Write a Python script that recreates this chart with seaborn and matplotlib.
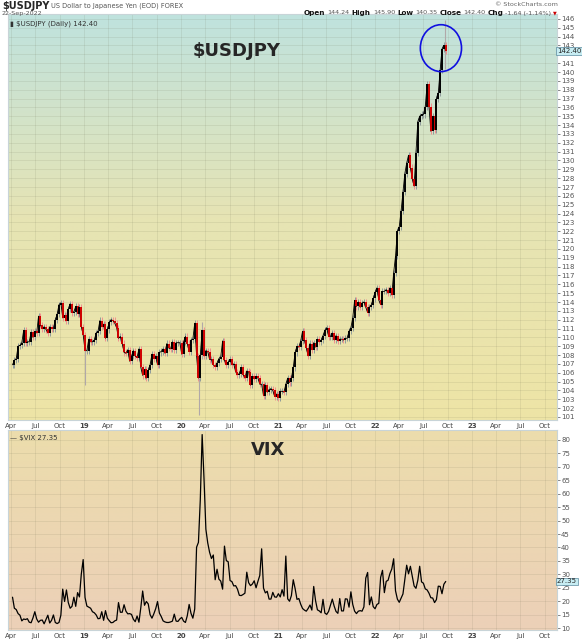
import numpy as np
import pandas as pd
import matplotlib
matplotlib.use("Agg")
import matplotlib.pyplot as plt
import matplotlib.dates as mdates
import matplotlib.transforms as mtransforms
from matplotlib.patches import Ellipse
from matplotlib.colors import LinearSegmentedColormap
import seaborn as sns

sns.set_style("white")
plt.rcParams['font.family'] = ['DejaVu Sans']

# weekly USDJPY closes (first week = Apr 6 2018)
jpy_2018 = [106.9, 107.4, 107.6, 109.0, 109.1, 109.4, 110.8, 109.4, 109.5, 109.5,
            110.6, 110.0, 110.7, 110.5, 112.4, 111.4, 111.0, 111.2, 110.9, 110.5,
            111.2, 111.0, 111.0, 112.0, 112.6, 113.7, 113.9, 112.2, 112.5, 111.9,
            113.2, 113.8, 112.8, 112.9, 113.5, 112.7, 113.4, 111.2, 110.3]
jpy_2019 = [108.5, 108.5, 109.8, 109.5, 109.5, 109.7, 110.5, 110.7, 111.9, 111.2,
            111.5, 109.9, 110.9, 111.7, 112.0, 111.9, 111.6, 111.1, 109.9, 110.1,
            109.3, 108.3, 108.2, 108.6, 107.3, 107.9, 108.5, 107.9, 107.7, 108.7,
            106.6, 105.7, 106.4, 105.4, 106.3, 106.9, 108.1, 107.6, 107.9, 106.9,
            108.3, 108.4, 108.7, 108.2, 109.3, 108.8, 108.7, 109.5, 108.6, 109.4,
            109.4, 109.4]
jpy_2020 = [108.1, 109.5, 110.1, 109.3, 108.4, 109.7, 109.8, 111.6, 107.9, 105.4,
            108.0, 110.8, 107.9, 108.5, 108.4, 107.5, 107.5, 106.9, 106.7, 107.1,
            107.6, 107.8, 109.6, 107.4, 106.9, 107.2, 107.5, 106.9, 107.0, 106.1,
            105.8, 105.9, 106.6, 105.8, 105.4, 106.2, 106.1, 104.6, 105.6, 105.3,
            105.6, 105.4, 104.7, 104.7, 103.4, 104.6, 103.8, 104.1, 104.2, 104.0,
            103.3, 103.6]
jpy_2021 = [103.2, 103.9, 103.9, 103.8, 104.7, 105.4, 104.9, 105.4, 106.6, 108.3,
            109.0, 108.9, 109.6, 110.7, 109.7, 108.8, 107.9, 109.3, 108.6, 109.4,
            108.9, 109.8, 109.5, 109.7, 110.2, 110.8, 111.1, 110.1, 110.1, 110.5,
            109.7, 110.2, 109.6, 109.8, 109.8, 109.7, 109.9, 109.9, 110.7, 111.1,
            112.2, 114.2, 113.5, 114.0, 113.4, 113.9, 114.0, 113.4, 112.8, 113.4,
            113.7, 114.4, 115.1]
jpy_2022 = [115.6, 114.2, 113.7, 115.2, 115.2, 115.4, 115.0, 115.6, 114.8, 117.3,
            119.2, 122.0, 122.5, 124.3, 126.4, 128.5, 129.7, 130.6, 129.2, 127.9,
            127.1, 130.9, 134.4, 135.0, 135.2, 135.2, 136.1, 138.6, 136.1, 133.3,
            135.0, 133.5, 137.0, 137.6, 140.2, 142.6, 143.0, 142.4]
usdjpy = jpy_2018 + jpy_2019 + jpy_2020 + jpy_2021 + jpy_2022

# weekly VIX readings (peaks kept)
vix_2018 = [21.5, 17.4, 16.9, 15.4, 14.8, 12.7, 13.4, 13.2, 13.5, 12.2,
            12.0, 13.8, 16.1, 13.4, 12.2, 12.9, 13.0, 11.6, 13.2, 14.8,
            11.9, 12.9, 14.9, 12.1, 11.7, 12.1, 14.8, 24.5, 19.9, 24.2,
            19.5, 17.4, 18.1, 21.5, 18.1, 23.2, 21.6, 30.1, 35.5]
vix_2019 = [21.4, 18.2, 17.8, 17.4, 16.1, 15.7, 14.9, 13.5, 13.6, 16.1,
            12.9, 16.5, 13.7, 12.8, 12.0, 12.1, 12.7, 13.0, 19.5, 15.9,
            15.9, 18.7, 16.3, 15.3, 15.4, 15.1, 13.3, 12.4, 14.5, 12.2,
            17.6, 23.8, 18.5, 19.9, 19.0, 15.0, 13.7, 15.3, 17.2, 19.9,
            15.6, 14.3, 12.7, 12.3, 12.1, 12.1, 12.3, 12.6, 15.2, 12.6,
            12.5, 13.4]
vix_2020 = [14.0, 12.6, 12.1, 14.6, 18.8, 15.5, 13.7, 17.1, 40.1, 41.9,
            57.8, 82.0, 65.5, 46.8, 41.7, 38.2, 35.9, 37.2, 28.0, 31.9,
            28.2, 27.5, 24.5, 40.5, 35.1, 34.7, 27.7, 27.3, 25.7, 25.8,
            24.5, 22.2, 22.1, 22.5, 23.0, 30.8, 26.9, 25.8, 26.4, 27.6,
            25.0, 27.4, 29.6, 39.5, 24.9, 23.1, 23.7, 20.8, 20.8, 23.3,
            21.6, 21.5]
vix_2021 = [22.8, 21.6, 24.3, 21.9, 36.8, 20.9, 20.0, 22.1, 28.0, 24.7,
            20.7, 21.0, 18.9, 17.3, 16.7, 16.3, 17.3, 18.6, 16.7, 25.5,
            20.2, 16.8, 16.4, 15.7, 20.7, 15.6, 15.1, 16.2, 18.5, 20.8,
            18.2, 16.2, 15.5, 21.0, 16.4, 16.4, 20.9, 20.8, 17.8, 23.5,
            18.8, 16.3, 15.4, 16.3, 16.5, 16.3, 17.9, 28.6, 30.7, 18.7,
            21.6, 18.0, 17.2]
vix_2022 = [18.8, 19.2, 28.9, 31.5, 23.2, 27.4, 27.8, 30.3, 32.0, 35.8,
            23.9, 20.8, 19.6, 21.2, 22.7, 28.2, 33.4, 30.2, 33.0, 29.4,
            25.7, 24.8, 27.8, 33.0, 27.2, 26.7, 24.6, 24.2, 23.0, 21.3,
            21.2, 19.5, 20.6, 25.6, 25.5, 22.8, 26.3, 27.35]
vix = vix_2018 + vix_2019 + vix_2020 + vix_2021 + vix_2022

# intraday extremes visible as long wicks
spike_dates = ["2019-01-03", "2020-03-09", "2020-03-19", "2022-09-22"]
spike_low = [104.6, 101.2, 107.5, 140.35]
spike_high = [108.7, 105.4, 111.7, 145.9]

jpy_weeks = pd.date_range("2018-04-06", periods=len(usdjpy), freq="7D")
vix_weeks = pd.date_range("2018-04-06", periods=len(vix), freq="7D")
jpy = pd.DataFrame({"date": jpy_weeks, "close": usdjpy})
vx = pd.DataFrame({"date": vix_weeks, "vix": vix})

W, H = 582, 640
fig = plt.figure(figsize=(W / 100, H / 100), dpi=100)
fig.patch.set_facecolor("white")


def px_axes(x0, y0, x1, y1):
    return fig.add_axes([x0 / W, 1 - y1 / H, (x1 - x0) / W, (y1 - y0) / H])


ax1 = px_axes(8, 14, 557, 420)
ax2 = px_axes(8, 430, 557, 630)

top_cmap = LinearSegmentedColormap.from_list("top", ["#eee4a6", "#e6e4b4", "#bfe2de"])
bot_cmap = LinearSegmentedColormap.from_list("bot", ["#ecd0b8", "#ecddac"])
grad = np.linspace(0, 1, 256).reshape(-1, 1)
for ax, cm in [(ax1, top_cmap), (ax2, bot_cmap)]:
    ax.imshow(grad, extent=[0, 1, 0, 1], transform=ax.transAxes, aspect="auto",
              cmap=cm, origin="lower", zorder=0)

# USDJPY candles: body from previous close to close
prev = [usdjpy[0]] + usdjpy[:-1]
lo = np.minimum(prev, usdjpy)
hi = np.maximum(prev, usdjpy)
up = np.array(usdjpy) >= np.array(prev)
wick_col = np.where(up, "#8f9a9a", "#f09090")
ax1.vlines(jpy["date"], lo - 0.35, hi + 0.35, colors=wick_col, lw=0.7, zorder=2)
ax1.vlines(pd.to_datetime(spike_dates), spike_low, spike_high, colors="#b0a8a8", lw=0.8, zorder=2)
sns.lineplot(data=jpy, x="date", y="close", ax=ax1, color="black", lw=0.6, zorder=3)
ax1.vlines(jpy["date"], lo, hi, colors=np.where(up, "black", "#d00000"), lw=1.4, zorder=4)

sns.lineplot(data=vx, x="date", y="vix", ax=ax2, color="black", lw=0.9, zorder=3)

ticks = pd.date_range("2018-04-01", "2023-10-01", freq="QS-JAN")
labels = []
for t in ticks:
    labels.append(t.strftime("%y") if t.month == 1 else t.strftime("%b"))

x0 = mdates.date2num(pd.Timestamp("2018-03-20"))
x1 = mdates.date2num(pd.Timestamp("2023-11-16"))
for ax in (ax1, ax2):
    ax.set_xlim(x0, x1)
    ax.set_xticks(ticks)
    ax.set_xticklabels(labels)
    for lab, t in zip(ax.get_xticklabels(), ticks):
        if t.month == 1:
            lab.set_fontweight("bold")
    ax.yaxis.tick_right()
    ax.tick_params(axis="x", length=0, pad=2, labelsize=5, colors="#444444")
    ax.tick_params(axis="y", length=2, width=0.5, pad=1, labelsize=5, colors="#555555")
    ax.grid(True, color="#6a6a50", alpha=0.16, lw=0.5)
    ax.set_xlabel("")
    ax.set_ylabel("")
    for s in ax.spines.values():
        s.set_color("#c8d4d8")
        s.set_linewidth(0.8)

ax1.set_ylim(100.66, 146.56)
ax1.set_yticks(np.arange(101, 147, 1))
ax2.set_ylim(9.3, 83.7)
ax2.set_yticks(np.arange(10, 81, 5))
# the 142 label sits under the last-value box
for lab, v in zip(ax1.get_yticklabels(), np.arange(101, 147, 1)):
    if v == 142:
        lab.set_visible(False)

# last value boxes on the right axis
tr1 = mtransforms.blended_transform_factory(ax1.transAxes, ax1.transData)
ax1.text(1.0, 142.4, "142.40", transform=tr1, fontsize=5, va="center", ha="left",
         bbox=dict(boxstyle="square,pad=0.12", fc="#c6ecf2", ec="#5a8aa0", lw=0.5), zorder=6)
tr2 = mtransforms.blended_transform_factory(ax2.transAxes, ax2.transData)
ax2.text(1.0, 27.35, "27.35", transform=tr2, fontsize=5, va="center", ha="left",
         bbox=dict(boxstyle="square,pad=0.12", fc="#c6ecf2", ec="#5a8aa0", lw=0.5), zorder=6)

# highlight circle
cx = mdates.date2num(pd.Timestamp("2022-09-05"))
ax1.add_patch(Ellipse((cx, 142.7), width=155, height=5.3, fill=False,
                      ec="#1010e0", lw=1.2, zorder=7))

ax1.text(0.417, 0.908, "$USDJPY", transform=ax1.transAxes, fontsize=13,
         fontweight="bold", ha="center", va="center")
ax2.text(0.473, 0.9, "VIX", transform=ax2.transAxes, fontsize=13,
         fontweight="bold", ha="center", va="center")

# in-panel legends
ax1.text(0.004, 0.985, "\u25ae $USDJPY (Daily) 142.40", transform=ax1.transAxes,
         fontsize=5, ha="left", va="top", color="#333333")
ax2.text(0.004, 0.975, "\u2014 $VIX 27.35", transform=ax2.transAxes,
         fontsize=5, ha="left", va="top", color="#333333")

renderer = fig.canvas.get_renderer()


def run_text(x, y, pieces, gap=2, right=False):
    # place pieces one after another (pixel coords); right=True ends the run at x
    texts = [fig.text(0, 1 - y / H, s, va="center", ha="left", **kw) for s, kw in pieces]
    widths = [t.get_window_extent(renderer).width for t in texts]
    if right:
        x = x - sum(widths) - gap * (len(texts) - 1)
    for t, w in zip(texts, widths):
        t.set_x(x / W)
        x += w + gap


bold = dict(fontsize=5.2, fontweight="bold", color="#111111")
norm = dict(fontsize=4.6, color="#555555")
run_text(2, 6, [("$USDJPY", dict(fontsize=7, fontweight="bold")),
                ("US Dollar to Japanese Yen (EOD) FOREX", dict(fontsize=4.8, color="#555555"))])
fig.text(2 / W, 1 - 14 / H, "22-Sep-2022", fontsize=4.6, color="#555555", va="center")
fig.text(558 / W, 1 - 5 / H, "\u00a9 StockCharts.com", fontsize=4.6, color="#666666",
         ha="right", va="center")
run_text(557, 13, [("Open", bold), ("144.24", norm), ("High", bold), ("145.90", norm),
                   ("Low", bold), ("140.35", norm), ("Close", bold), ("142.40", norm),
                   ("Chg", bold), ("-1.64 (-1.14%)", norm),
                   ("\u25bc", dict(fontsize=3.5, color="#cc0000"))], gap=2, right=True)

fig.savefig("out.png", dpi=100)
